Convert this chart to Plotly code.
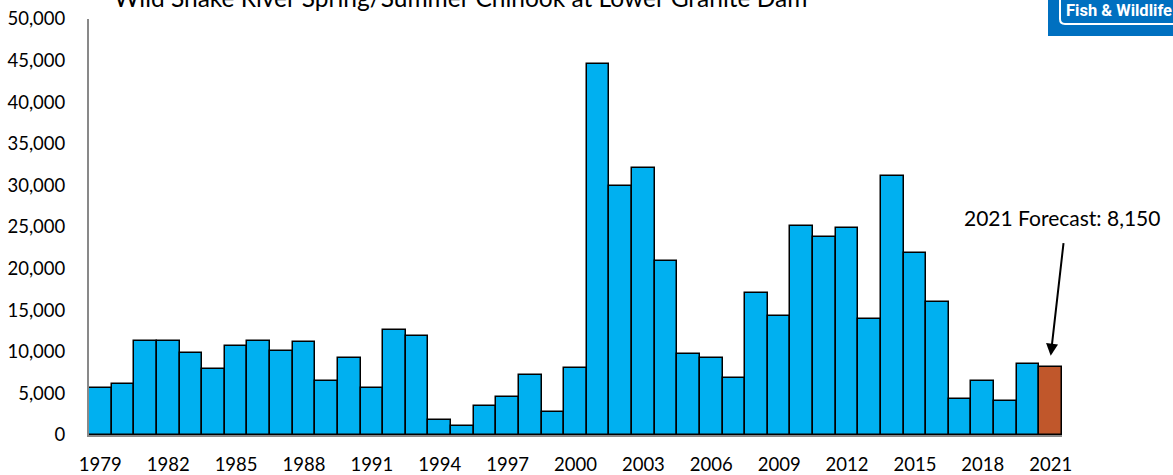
import plotly.graph_objects as go

years = list(range(1979, 2022))
counts = [5700, 6100, 11300, 11250, 9820, 7900, 10660, 11300, 10100, 11140,
          6460, 9260, 5700, 12620, 11900, 1830, 1100, 3540, 4540, 7220,
          2820, 8100, 44620, 29900, 32140, 20950, 9760, 9240, 6840, 17100,
          14260, 25180, 23800, 24850, 13900, 31180, 21870, 15940, 4330, 6530,
          4140, 8570, 8150]
tick_years = list(range(1979, 2022, 3))
y_ticks = list(range(0, 50001, 5000))

title_text = "Wild Snake River Spring/Summer Chinook at Lower Granite Dam"
forecast_text = "2021 Forecast: 8,150"
logo_text = "Fish & Wildlife"

colors = ["#00B0F0"] * (len(years) - 1) + ["#C0572B"]

FONT = "Lato, Calibri, Carlito, sans-serif"

fig = go.Figure()
fig.add_trace(go.Bar(
    x=years, y=counts,
    marker=dict(color=colors, line=dict(color="black", width=1.5)),
    hoverinfo="x+y",
))

L, R_px, T, B = 89, 1062, 19, 435.5
W_px = R_px - L
H_px = B - T

def px(p):
    return (p - L) / W_px

def py(p):
    return (B - p) / H_px

fig.update_layout(
    width=1173, height=475,
    margin=dict(l=L, r=1173 - R_px, t=T, b=475 - B, autoexpand=False),
    paper_bgcolor="white", plot_bgcolor="white",
    bargap=0,
    showlegend=False,
    font=dict(family=FONT, size=18, color="black"),
    xaxis=dict(
        range=[1978.5, 2021.5],
        tickmode="array", tickvals=tick_years,
        ticktext=[str(y) for y in tick_years],
        showline=True, linecolor="#898989", linewidth=2,
        showgrid=False, zeroline=False, ticks="",
        ticklabelstandoff=12, automargin=False,
        tickfont=dict(family=FONT, size=18.5, color="black"),
    ),
    yaxis=dict(
        range=[0, 50000],
        tickmode="array", tickvals=y_ticks,
        ticktext=[f"{v:,}" for v in y_ticks],
        showline=True, linecolor="#898989", linewidth=2,
        showgrid=False, zeroline=False, ticks="",
        ticklabelstandoff=18, automargin=False,
        tickfont=dict(family=FONT, size=18.5, color="black"),
    ),
)

# Title (partly clipped at top, as in the original)
fig.add_annotation(
    text=title_text, xref="paper", yref="paper",
    x=px(460), y=py(14), xanchor="center", yanchor="bottom",
    showarrow=False, font=dict(family=FONT, size=24.5, color="black"),
)

# Forecast annotation text
fig.add_annotation(
    text=forecast_text, xref="paper", yref="paper",
    x=px(1062), y=py(218), xanchor="center", yanchor="middle",
    showarrow=False, font=dict(family=FONT, size=21, color="black"),
)
# Arrow
fig.add_annotation(
    text="", xref="x", yref="y", x=2021, y=9540,
    ax=13, ay=-114, showarrow=True,
    arrowhead=2, arrowsize=1.2, arrowwidth=2, arrowcolor="black",
)

# Logo
fig.add_shape(type="rect", xref="paper", yref="paper",
              x0=px(1048), x1=px(1180), y0=py(36), y1=py(-5),
              fillcolor="#0070C0", line=dict(width=0), layer="above")
x0 = px(1060); x1 = px(1180); xc = px(1065)
yb = py(24); yt = py(-5); yc = py(19)
fig.add_shape(type="path", xref="paper", yref="paper",
              path=f"M {x0},{yt} L {x0},{yc} Q {x0},{yb} {xc},{yb} L {x1},{yb}",
              line=dict(color="white", width=2), layer="above")
fig.add_annotation(
    text=f"<b>{logo_text}</b>", xref="paper", yref="paper",
    x=px(1064), y=py(10), xanchor="left", yanchor="middle",
    showarrow=False,
    font=dict(family="Roboto, sans-serif", size=16.5, color="white"),
)

fig.write_html(
    "out.html",
    config={"displayModeBar": False},
    post_script="document.body.style.margin='0';document.body.style.overflow='hidden';",
)
